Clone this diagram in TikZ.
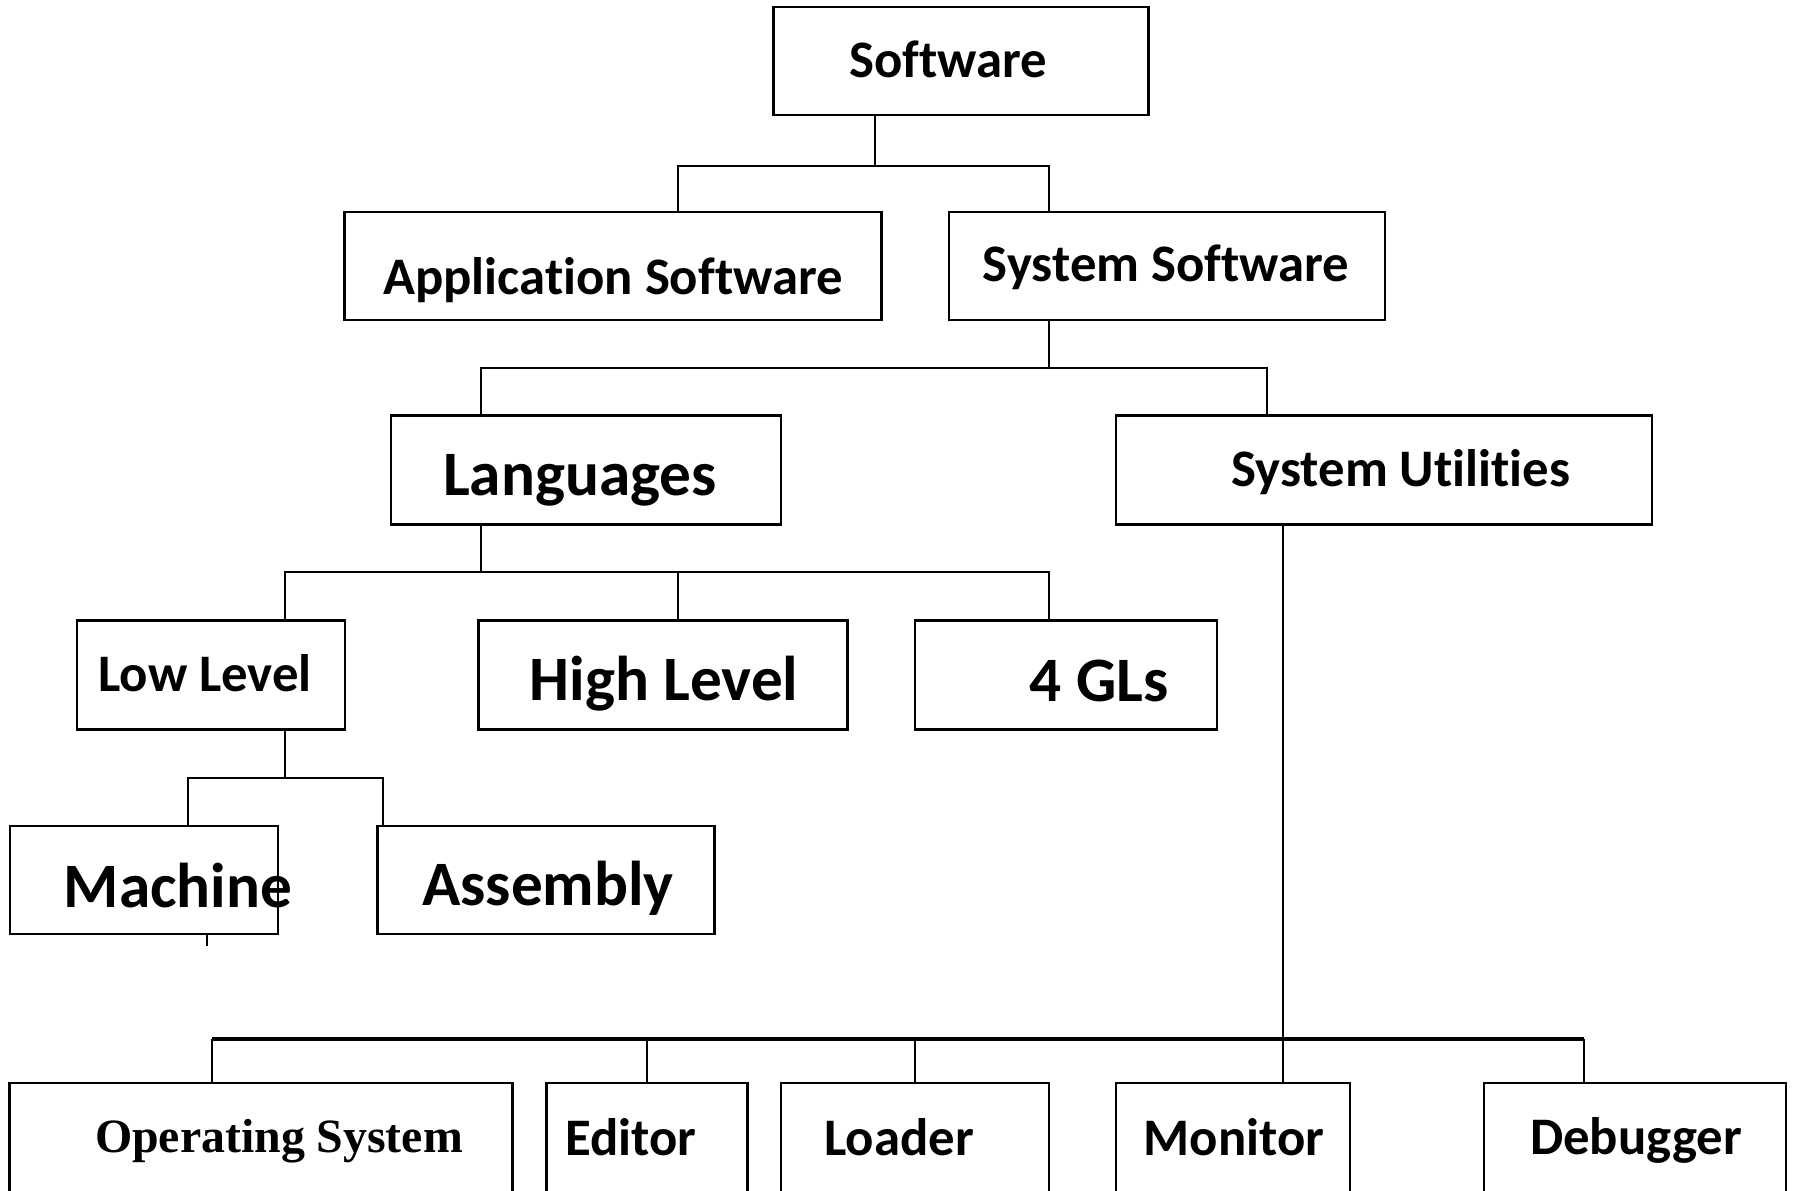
\documentclass[tikz,border=0pt]{standalone}
\usepackage{fontspec}
\setmainfont[Ligatures=CommonOff]{Carlito}
\newfontfamily\timesfont{Liberation Serif}
\usetikzlibrary{positioning}

\begin{document}
\begin{tikzpicture}[x=0.01cm, y=-0.01cm,
    blk/.style = {draw, line width=0.7pt, minimum height=1.08cm, inner sep=0pt},
    txt/.style = {inner sep=0pt, font=\bfseries\fontsize{15}{18}\selectfont},
    big/.style = {inner sep=0pt, font=\bfseries\fontsize{18}{21}\selectfont},
    wire/.style = {line width=0.6pt},
    bus/.style = {line width=1.4pt}]

\clip (0,0) rectangle (1793,1190);

% boxes
\node[blk, minimum width=3.75cm] (sw) at (961,61) {};
\node[blk, minimum width=5.37cm] (app) at (613,266) {};
\node[blk, minimum width=4.36cm] (sys) at (1167,266) {};
\node[blk, minimum width=3.90cm, minimum height=1.09cm] (lang) at (586,470) {};
\node[blk, minimum width=5.36cm, minimum height=1.09cm] (util) at (1384,470) {};
\node[blk, minimum width=2.68cm, minimum height=1.09cm] (low) at (211,675) {};
\node[blk, minimum width=3.69cm, minimum height=1.09cm] (high) at (663,675) {};
\node[blk, minimum width=3.02cm, minimum height=1.09cm] (gl) at (1066,675) {};
\node[blk, minimum width=2.68cm] (mach) at (144,880) {};
\node[blk, minimum width=3.37cm] (asm) at (546,880) {};
\node[blk, minimum width=5.03cm, minimum height=1.3cm] (os) at (261,1148) {};
\node[blk, minimum width=2.01cm, minimum height=1.3cm] (ed) at (647,1148) {};
\node[blk, minimum width=2.68cm, minimum height=1.3cm] (ld) at (915,1148) {};
\node[blk, minimum width=2.34cm, minimum height=1.3cm] (mon) at (1233,1148) {};
\node[blk, minimum width=3.02cm, minimum height=1.3cm] (dbg) at (1635,1148) {};

% texts
\node[txt] (sw-t) at (948,59) {Software};
\node[txt] (app-t) at (613,280) {Application Software};
\node[txt] (sys-t) at (1166,267) {System Software};
\node[big] (lang-t) at (580,480) {Languages};
\node[txt] (util-t) at (1401,472) {System Utilities};
\node[txt] (low-t) at (205,673) {Low Level};
\node[big] (high-t) at (664,684) {High Level};
\node[big] (gl-t) at (1099,681) {4 GLs};
\node[big] (mach-t) at (178,886) {Machine};
\node[big] (asm-t) at (548,888) {Assembly};
\node[inner sep=0pt, font=\timesfont\bfseries\fontsize{13.6}{16}\selectfont] (os-t) at (279,1141) {Operating System};
\node[txt] (ed-t) at (631,1137) {Editor};
\node[txt] (ld-t) at (899,1137) {Loader};
\node[txt] (mon-t) at (1234,1137) {Monitor};
\node[txt] (dbg-t) at (1636,1140) {Debugger};

% connectors
\coordinate (j1) at (875,166);
\coordinate (j1a) at (678,166);
\coordinate (j1b) at (1049,166);
\draw[wire] (sw.south -| j1) -- (j1);
\draw[wire] (app.north -| j1a) -- (j1a) -- (j1b) -- (sys.north -| j1b);

\coordinate (j2) at (1049,368);
\coordinate (j2a) at (481,368);
\coordinate (j2b) at (1267,368);
\draw[wire] (sys.south -| j2) -- (j2);
\draw[wire] (lang.north -| j2a) -- (j2a) -- (j2b) -- (util.north -| j2b);

\coordinate (j3) at (481,572);
\coordinate (j3a) at (285,572);
\coordinate (j3b) at (678,572);
\coordinate (j3c) at (1049,572);
\draw[wire] (lang.south -| j3) -- (j3);
\draw[wire] (low.north -| j3a) -- (j3a) -- (j3c) -- (gl.north -| j3c);
\draw[wire] (j3b) -- (high.north -| j3b);

\coordinate (j4) at (285,778);
\coordinate (j4a) at (188,778);
\coordinate (j4b) at (383,778);
\draw[wire] (low.south -| j4) -- (j4);
\draw[wire] (mach.north -| j4a) -- (j4a) -- (j4b) -- (asm.north -| j4b);
\coordinate (stub) at (207,946);
\draw[wire] (mach.south -| stub) -- (stub);

\coordinate (j5) at (1283,1039);
\coordinate (j5a) at (212,1039);
\coordinate (j5b) at (647,1039);
\coordinate (j5c) at (915,1039);
\coordinate (j5e) at (1584,1039);
\draw[wire] (util.south -| j5) -- (mon.north -| j5);
\draw[bus] (j5a) -- (j5e);
\draw[wire] (j5a) -- (os.north -| j5a);
\draw[wire] (j5b) -- (ed.north -| j5b);
\draw[wire] (j5c) -- (ld.north -| j5c);
\draw[wire] (j5e) -- (dbg.north -| j5e);

\end{tikzpicture}
\end{document}
